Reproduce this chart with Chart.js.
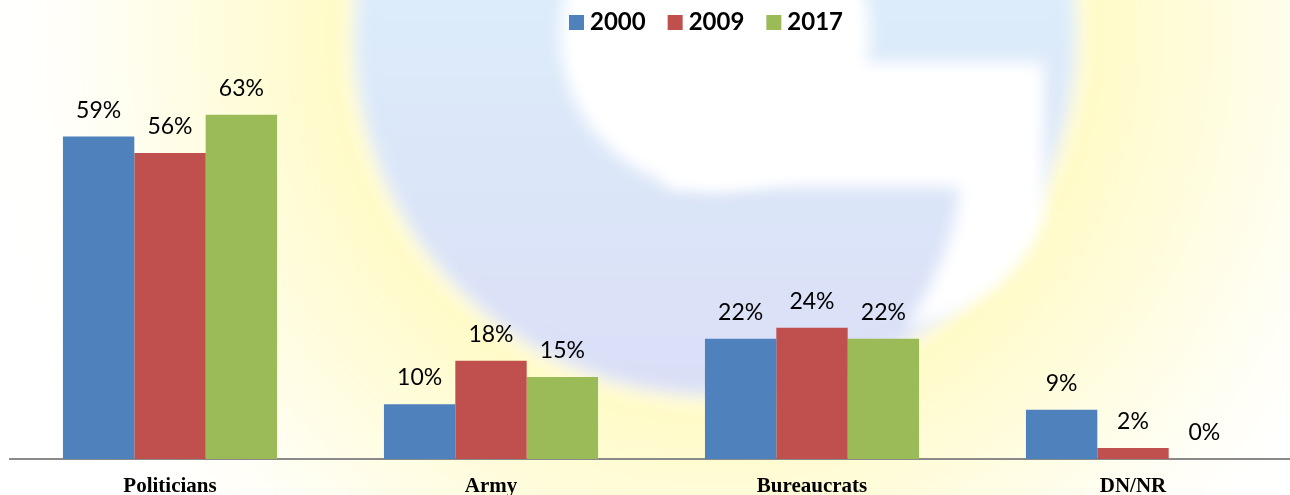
<!DOCTYPE html>
<html>
<head>
<meta charset="utf-8">
<script src="https://cdn.jsdelivr.net/npm/chart.js@4/dist/chart.umd.min.js"></script>
<style>
  html, body { margin: 0; padding: 0; background: #fff; overflow: hidden; }
  #wrap { position: absolute; left: 0; top: 0; width: 1294px; height: 495px; }
</style>
</head>
<body>
<div id="wrap"><canvas id="c" width="1294" height="495"></canvas></div>
<script>
const categories = ["Politicians", "Army", "Bureaucrats", "DN/NR"];
const seriesNames = ["2000", "2009", "2017"];
const values2000 = [59, 10, 22, 9];
const values2009 = [56, 18, 24, 2];
const values2017 = [63, 15, 22, 0];
const seriesColors = ["#4F81BD", "#C0504D", "#9BBB59"];

const watermark = {
  id: 'watermark',
  beforeDraw(chart) {
    const ctx = chart.ctx;
    ctx.save();
    ctx.fillStyle = '#ffffff';
    ctx.fillRect(0, 0, chart.width, chart.height);
    const cx = 715, cy = 35;
    // yellow glow
    let g = ctx.createRadialGradient(cx, cy, 330, cx, cy, 760);
    g.addColorStop(0, 'rgba(255,250,190,0)');
    g.addColorStop(0.12, 'rgba(255,250,190,0.85)');
    g.addColorStop(0.5, 'rgba(255,251,205,0.5)');
    g.addColorStop(1, 'rgba(255,255,255,0)');
    ctx.fillStyle = g;
    ctx.fillRect(0, 0, chart.width, chart.height);
    ctx.filter = 'blur(8px)';
    // blue ring (G)
    g = ctx.createLinearGradient(0, 0, 0, 400);
    g.addColorStop(0, 'rgb(220,236,250)');
    g.addColorStop(1, 'rgb(218,222,246)');
    ctx.fillStyle = g;
    ctx.beginPath();
    ctx.arc(cx, cy, 360, 0, Math.PI * 2);
    ctx.fill();
    // inner counter + mouth of the G
    ctx.fillStyle = '#ffffff';
    ctx.beginPath();
    ctx.arc(cx, cy, 155, 0, Math.PI * 2);
    ctx.fill();
    ctx.beginPath();
    ctx.moveTo(665, 62);
    ctx.lineTo(1044, 62);
    ctx.lineTo(1044, 220);
    ctx.quadraticCurveTo(1015, 300, 905, 330);
    ctx.quadraticCurveTo(955, 250, 960, 187);
    ctx.lineTo(665, 187);
    ctx.closePath();
    ctx.fill();
    ctx.filter = 'none';
    ctx.restore();
  }
};

const dataLabels = {
  id: 'dataLabels',
  afterDatasetsDraw(chart) {
    const ctx = chart.ctx;
    ctx.save();
    ctx.font = '23px Lato';
    ctx.fillStyle = '#000';
    ctx.textAlign = 'center';
    ctx.textBaseline = 'alphabetic';
    chart.data.datasets.forEach((ds, i) => {
      const meta = chart.getDatasetMeta(i);
      meta.data.forEach((el, j) => {
        ctx.fillText(ds.data[j] + '%', el.x, el.y - 19);
      });
    });
    ctx.restore();
  }
};

const customLegend = {
  id: 'customLegend',
  afterDraw(chart) {
    const ctx = chart.ctx;
    ctx.save();
    ctx.font = 'bold 24px Lato';
    ctx.textBaseline = 'alphabetic';
    ctx.textAlign = 'left';
    const box = 15, gapText = 6, gapItem = 22;
    const items = chart.data.datasets.map(d => ({ label: d.label, color: d.backgroundColor, w: ctx.measureText(d.label).width }));
    let total = 0;
    items.forEach((it, k) => { total += box + gapText + it.w + (k < items.length - 1 ? gapItem : 0); });
    let x = 706 - total / 2;
    items.forEach(it => {
      ctx.fillStyle = it.color;
      ctx.fillRect(x, 15, box, box);
      ctx.fillStyle = '#000';
      ctx.fillText(it.label, x + box + gapText, 30);
      x += box + gapText + it.w + gapItem;
    });
    ctx.restore();
  }
};

new Chart(document.getElementById('c'), {
  type: 'bar',
  data: {
    labels: categories,
    datasets: [
      { label: seriesNames[0], data: values2000, backgroundColor: seriesColors[0] },
      { label: seriesNames[1], data: values2009, backgroundColor: seriesColors[1] },
      { label: seriesNames[2], data: values2017, backgroundColor: seriesColors[2] }
    ]
  },
  options: {
    responsive: false,
    animation: false,
    layout: { padding: { left: 9.5, right: 0.5, top: 0, bottom: 0 } },
    datasets: { bar: { categoryPercentage: 0.667, barPercentage: 1.0, borderWidth: 0 } },
    plugins: { legend: { display: false }, tooltip: { enabled: false } },
    scales: {
      x: {
        grid: { display: false, drawTicks: false },
        border: { display: true, color: '#8a8a8a', width: 2 },
        ticks: { color: '#000', font: { family: 'Liberation Serif', weight: 'bold', size: 21 }, padding: 15 },
        afterFit(scale) { scale.height = 36; }
      },
      y: { display: false, min: 0, max: 84 }
    }
  },
  plugins: [watermark, dataLabels, customLegend]
});
</script>
</body>
</html>
